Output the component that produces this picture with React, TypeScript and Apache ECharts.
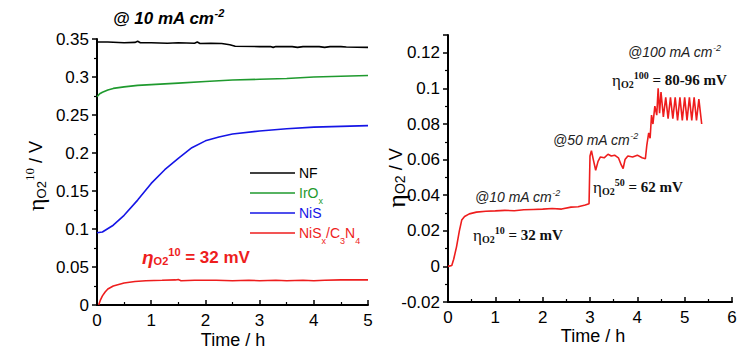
import React, { useEffect, useRef } from 'react';
import * as echarts from 'echarts';

// ---------- data (time in h, overpotential in V) ----------
const nfData: number[][] = [
  [0, 0.346], [0.2, 0.346], [0.5, 0.345], [0.7, 0.3455], [0.75, 0.347], [0.8, 0.345], [1.0, 0.345],
  [1.3, 0.3445], [1.5, 0.345], [1.8, 0.3445], [1.85, 0.346], [1.9, 0.344], [2.1, 0.3445], [2.3, 0.344],
  [2.45, 0.3425], [2.55, 0.3405], [3.0, 0.340], [3.2, 0.340], [3.25, 0.339], [3.3, 0.340], [3.6, 0.340],
  [3.7, 0.339], [3.8, 0.340], [4.1, 0.340], [4.2, 0.339], [4.3, 0.340], [4.5, 0.340], [4.6, 0.3395], [5, 0.339],
];
const iroxData: number[][] = [
  [0, 0.274], [0.05, 0.278], [0.1, 0.28], [0.2, 0.283], [0.3, 0.285], [0.5, 0.287], [0.75, 0.289],
  [1.0, 0.29], [1.5, 0.292], [2.0, 0.294], [2.5, 0.296], [3.0, 0.297], [3.5, 0.298], [4.0, 0.3],
  [4.5, 0.301], [5.0, 0.302],
];
const nisData: number[][] = [
  [0, 0.095], [0.1, 0.096], [0.3, 0.105], [0.5, 0.118], [0.75, 0.138], [1.0, 0.16], [1.25, 0.178],
  [1.5, 0.193], [1.75, 0.207], [2.0, 0.216], [2.25, 0.221], [2.5, 0.225], [3.0, 0.229], [3.5, 0.232],
  [4.0, 0.234], [4.5, 0.235], [5.0, 0.236],
];
const nisxData: number[][] = [
  [0.03, 0], [0.06, 0.006], [0.1, 0.012], [0.15, 0.017], [0.2, 0.021], [0.3, 0.025], [0.4, 0.027],
  [0.5, 0.029], [0.7, 0.031], [0.9, 0.032], [1.2, 0.0325], [1.45, 0.033], [1.5, 0.0335], [1.55, 0.032],
  [1.8, 0.0325], [2.2, 0.0325], [2.5, 0.032], [2.8, 0.0325], [3.0, 0.032], [3.3, 0.0325], [3.5, 0.032],
  [3.8, 0.0325], [4.0, 0.032], [4.2, 0.0325], [4.5, 0.033], [5.0, 0.033],
];
const multiStepData: number[][] = [
  [0, 0], [0.08, 0.0005], [0.12, 0.004], [0.18, 0.011], [0.24, 0.02], [0.29, 0.026], [0.35, 0.028],
  [0.45, 0.0295], [0.6, 0.0305], [0.8, 0.031], [1.0, 0.0312], [1.2, 0.0315], [1.4, 0.0313], [1.6, 0.0318],
  [1.8, 0.032], [2.0, 0.0322], [2.2, 0.0325], [2.4, 0.0322], [2.6, 0.0333], [2.75, 0.0335], [2.9, 0.0345],
  [2.98, 0.0352], [3.0, 0.062], [3.03, 0.065], [3.07, 0.06], [3.12, 0.054], [3.17, 0.059], [3.22, 0.0615],
  [3.3, 0.061], [3.38, 0.063], [3.45, 0.062], [3.52, 0.0625], [3.6, 0.061], [3.66, 0.057], [3.7, 0.055],
  [3.74, 0.06], [3.8, 0.062], [3.9, 0.0615], [4.0, 0.0625], [4.1, 0.061], [4.17, 0.0605], [4.2, 0.068],
  [4.24, 0.075], [4.27, 0.072], [4.3, 0.085], [4.33, 0.08], [4.37, 0.09], [4.41, 0.085], [4.44, 0.1],
  [4.47, 0.086], [4.5, 0.098], [4.55, 0.084], [4.6, 0.095], [4.65, 0.083], [4.7, 0.095], [4.75, 0.083],
  [4.8, 0.095], [4.85, 0.082], [4.9, 0.095], [4.95, 0.082], [5.0, 0.095], [5.05, 0.082], [5.1, 0.095],
  [5.15, 0.082], [5.2, 0.095], [5.25, 0.082], [5.3, 0.094], [5.36, 0.08],
];

const seriesNames = ['NF', 'IrOx', 'NiS', 'NiSx/C3N4'];
const seriesColors = ['#000000', '#1f9a2e', '#1515e6', '#ee1d1d'];
const legendRich = [
  '{m|NF}',
  '{m|IrO}{s|x}',
  '{m|NiS}',
  '{m|NiS}{s|x}{m|/C}{s|3}{m|N}{s|4}',
];

const SANS = 'Liberation Sans, Arial, sans-serif';
const SERIF = 'Liberation Serif, Times New Roman, serif';

export default function App() {
  const ref = useRef<HTMLDivElement>(null);
  useEffect(() => {
    const chart = echarts.init(ref.current!, null, { renderer: 'svg' });

    const axisCommon = (inside: boolean) => ({
      axisLine: { show: true, onZero: false, lineStyle: { color: '#000', width: 2 } },
      axisTick: { show: true, inside, length: 5, lineStyle: { color: '#000', width: 1.5 } },
      minorTick: { show: true, splitNumber: 2, length: 3, lineStyle: { color: '#000', width: 1.2 } },
      splitLine: { show: false },
      axisLabel: { color: '#000', fontSize: 17, fontFamily: SANS, margin: 7 },
    });

    const datasets = [nfData, iroxData, nisData, nisxData];
    const leftSeries = datasets.map((d, i) => ({
      type: 'line', name: seriesNames[i], data: d, xAxisIndex: 0, yAxisIndex: 0,
      symbol: 'none', lineStyle: { color: seriesColors[i], width: 1.6 }, itemStyle: { color: seriesColors[i] },
    }));

    const legendGraphics: any[] = [];
    seriesNames.forEach((n, i) => {
      const y = 173 + i * 20;
      legendGraphics.push({
        type: 'line', shape: { x1: 250, y1: y, x2: 295, y2: y },
        style: { stroke: seriesColors[i], lineWidth: 1.6 },
      });
      legendGraphics.push({
        type: 'text', x: 299, y,
        style: {
          text: legendRich[i], fill: seriesColors[i], align: 'left', verticalAlign: 'middle',
          rich: {
            m: { fontSize: 14, fontFamily: SANS, fill: seriesColors[i] },
            s: { fontSize: 9, fontFamily: SANS, fill: seriesColors[i], padding: [16, 0, 0, 0] },
          },
        },
      });
    });

    const serifAnno = (x: number, y: number, sup: string, rest: string) => ({
      type: 'text', x, y,
      style: {
        text: `{e|η}{s|O2}{p|${sup}}{b|${rest}}`, align: 'left', verticalAlign: 'middle', fill: '#111',
        rich: {
          e: { fontSize: 17, fontFamily: SERIF, fill: '#111' },
          s: { fontSize: 10, fontFamily: SERIF, fontWeight: 'bold', fill: '#111', padding: [8, 0, 0, 0] },
          p: { fontSize: 10, fontFamily: SERIF, fontWeight: 'bold', fill: '#111', padding: [0, 0, 10, 0] },
          b: { fontSize: 15, fontFamily: SERIF, fontWeight: 'bold', fill: '#111' },
        },
      },
    });
    const italicAnno = (x: number, y: number, main: string) => ({
      type: 'text', x, y,
      style: {
        text: `{m|${main}}{p|-2}`, align: 'left', verticalAlign: 'middle', fill: '#222',
        rich: {
          m: { fontSize: 14, fontFamily: SANS, fontStyle: 'italic', fill: '#222' },
          p: { fontSize: 9, fontFamily: SANS, fontStyle: 'italic', fill: '#222', padding: [0, 0, 9, 0] },
        },
      },
    });

    const option: any = {
      animation: false,
      backgroundColor: '#fff',
      grid: [
        { left: 97, top: 39, width: 271, height: 266 },
        { left: 448, top: 35, width: 284, height: 267 },
      ],
      xAxis: [
        { type: 'value', gridIndex: 0, min: 0, max: 5, interval: 1, ...axisCommon(true) },
        { type: 'value', gridIndex: 1, min: 0, max: 6, interval: 1, ...axisCommon(true) },
      ],
      yAxis: [
        {
          type: 'value', gridIndex: 0, min: 0, max: 0.35, interval: 0.05, ...axisCommon(false),
          axisLabel: { color: '#000', fontSize: 17, fontFamily: SANS, margin: 8 },
        },
        {
          type: 'value', gridIndex: 1, min: -0.02, max: 0.13, interval: 0.02, ...axisCommon(false),
          axisLabel: { color: '#000', fontSize: 17, fontFamily: SANS, margin: 8, showMaxLabel: false },
        },
      ],
      series: [
        ...leftSeries,
        {
          type: 'line', name: 'NiSx/C3N4 multi-step', data: multiStepData, xAxisIndex: 1, yAxisIndex: 1,
          symbol: 'none', lineStyle: { color: '#ee1d1d', width: 1.6 },
        },
      ],
      graphic: [
        // title
        {
          type: 'text', x: 113, y: 18,
          style: {
            text: '{m|@ 10 mA cm}{p|-2}', align: 'left', verticalAlign: 'middle',
            rich: {
              m: { fontSize: 17, fontFamily: SANS, fontStyle: 'italic', fontWeight: 'bold', fill: '#000' },
              p: { fontSize: 11, fontFamily: SANS, fontStyle: 'italic', fontWeight: 'bold', fill: '#000', padding: [0, 0, 10, 0] },
            },
          },
        },
        // left y-axis name
        {
          type: 'text', x: 36, y: 176, rotation: Math.PI / 2,
          style: {
            text: '{e|η}{s|O2}{p|10}{n| / V}', align: 'center', verticalAlign: 'middle',
            rich: {
              e: { fontSize: 24, fontFamily: SERIF, fill: '#000' },
              s: { fontSize: 13, fontFamily: SANS, fill: '#000', padding: [10, 0, 0, 0] },
              p: { fontSize: 13, fontFamily: SERIF, fill: '#000', padding: [0, 0, 14, 0] },
              n: { fontSize: 18, fontFamily: SANS, fill: '#000' },
            },
          },
        },
        // right y-axis name
        {
          type: 'text', x: 396, y: 178, rotation: Math.PI / 2,
          style: {
            text: '{e|η}{s|O2}{n| / V}', align: 'center', verticalAlign: 'middle',
            rich: {
              e: { fontSize: 26, fontFamily: SERIF, fill: '#000' },
              s: { fontSize: 14, fontFamily: SANS, fill: '#000', padding: [8, 0, 0, 0] },
              n: { fontSize: 18, fontFamily: SANS, fill: '#000' },
            },
          },
        },
        // x-axis names
        { type: 'text', x: 233, y: 340, style: { text: 'Time / h', fontSize: 18, fontFamily: SANS, fill: '#000', align: 'center', verticalAlign: 'middle' } },
        { type: 'text', x: 593, y: 336, style: { text: 'Time / h', fontSize: 18, fontFamily: SANS, fill: '#000', align: 'center', verticalAlign: 'middle' } },
        // left annotation
        {
          type: 'text', x: 142, y: 257,
          style: {
            text: '{e|η}{s|O2}{p|10}{b| = 32 mV}', align: 'left', verticalAlign: 'middle',
            rich: {
              e: { fontSize: 19, fontFamily: SANS, fontStyle: 'italic', fontWeight: 'bold', fill: '#ee1d1d' },
              s: { fontSize: 11, fontFamily: SANS, fontWeight: 'bold', fill: '#ee1d1d', padding: [8, 0, 0, 0] },
              p: { fontSize: 11, fontFamily: SANS, fontWeight: 'bold', fill: '#ee1d1d', padding: [0, 0, 10, 0] },
              b: { fontSize: 17, fontFamily: SANS, fontWeight: 'bold', fill: '#ee1d1d' },
            },
          },
        },
        ...legendGraphics,
        italicAnno(628, 52, '@100 mA cm'),
        serifAnno(612, 80, '100', ' = 80-96 mV'),
        italicAnno(553, 140, '@50 mA cm'),
        serifAnno(593, 187, '50', ' = 62 mV'),
        italicAnno(475, 197, '@10 mA cm'),
        serifAnno(473, 235, '10', ' = 32 mV'),
      ],
    };
    chart.setOption(option);
    return () => chart.dispose();
  }, []);
  return (
    <div
      ref={ref}
      style={{ position: 'fixed', left: 0, top: 0, width: 747, height: 351, background: '#fff' }}
    />
  );
}
